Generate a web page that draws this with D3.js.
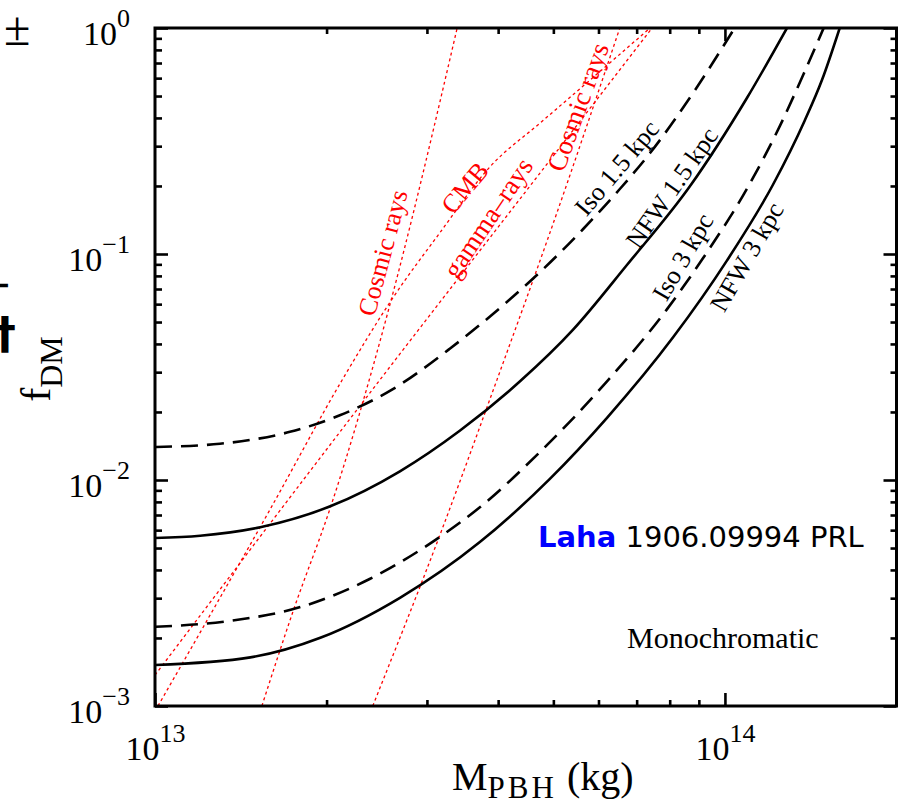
<!DOCTYPE html>
<html>
<head>
<meta charset="utf-8">
<script src="https://cdn.jsdelivr.net/npm/d3@7"></script>
<style>
  body { margin: 0; background: #fff; }
  svg { display: block; }
  .serif { font-family: "Liberation Serif", "Times New Roman", serif; }
  .comic { font-family: "Comic Sans MS", "DejaVu Sans", sans-serif; }
  .sans { font-family: "DejaVu Sans", sans-serif; }
</style>
</head>
<body>
<svg id="chart" width="898" height="805"></svg>
<script>
// ---- axis ranges and ticks ----
const massDomain = [1e13, 2e14];
const fDomain = [1e-3, 1];
const xMajorTicks = [1e13, 1e14];
const xMinorTicks = [2e13, 3e13, 4e13, 5e13, 6e13, 7e13, 8e13, 9e13];
const yMajorTicks = [1e-3, 1e-2, 1e-1, 1];
const yMinorTicks = [2e-3, 3e-3, 4e-3, 5e-3, 6e-3, 7e-3, 8e-3, 9e-3,
                     2e-2, 3e-2, 4e-2, 5e-2, 6e-2, 7e-2, 8e-2, 9e-2,
                     2e-1, 3e-1, 4e-1, 5e-1, 6e-1, 7e-1, 8e-1, 9e-1];

// ---- 511 keV limits (PBH mass in kg, fraction of dark matter) ----
const massIso15 = [1.0e13, 1.30e13, 1.725e13, 2.11e13, 2.61e13, 3.29e13, 4.08e13, 4.74e13, 5.64e13, 6.54e13, 7.39e13, 8.93e13, 1.04e14];
const fIso15    = [0.0140, 0.01447, 0.01633, 0.01933, 0.02518, 0.03809, 0.05929, 0.08326, 0.1290, 0.1939, 0.2798, 0.5470, 1.0];

const massNFW15 = [1.0e13, 1.2e13, 1.53e13, 2.03e13, 2.69e13, 3.43e13, 4.37e13, 5.41e13, 6.73e13, 8.68e13, 1.093e14, 1.285e14];
const fNFW15    = [0.00554, 0.00567, 0.00618, 0.00765, 0.01093, 0.01656, 0.02733, 0.04615, 0.0894, 0.1993, 0.490, 1.0];

const massIso3 = [1.0e13, 1.354e13, 1.80e13, 2.38e13, 3.16e13, 3.72e13, 4.74e13, 6.21e13, 7.91e13, 9.15e13, 1.093e14, 1.25e14, 1.38e14, 1.49e14];
const fIso3    = [0.00224, 0.00238, 0.00274, 0.003646, 0.005595, 0.007595, 0.01333, 0.02731, 0.05687, 0.09572, 0.1943, 0.3707, 0.6412, 1.0];

const massNFW3 = [1.0e13, 1.47e13, 1.95e13, 2.69e13, 3.72e13, 4.93e13, 6.21e13, 8.11e13, 1.008e14, 1.214e14, 1.38e14, 1.48e14, 1.59e14];
const fNFW3    = [0.001518, 0.001641, 0.002003, 0.003011, 0.005326, 0.01012, 0.01885, 0.04279, 0.0935, 0.2025, 0.3889, 0.5886, 1.0];

// ---- existing bounds ----
const massCR1 = [1.54e13, 1.75e13, 2.03e13, 2.56e13, 3.39e13];
const fCR1    = [0.001, 0.00266, 0.00752, 0.0548, 1.0];
const massCR2 = [2.41e13, 3.20e13, 3.98e13, 4.93e13, 6.54e13];
const fCR2    = [0.001, 0.00619, 0.0277, 0.124, 1.0];
const massCMB = [1.012e13, 1.59e13, 2.13e13, 2.62e13, 3.16e13, 3.87e13, 4.74e13, 5.28e13, 7.39e13];
const fCMB    = [0.001, 0.00737, 0.0277, 0.0645, 0.124, 0.243, 0.380, 0.480, 1.0];
const massGamma = [1.0e13, 2.48e13, 4.83e13, 7.45e13];
const fGamma    = [0.00137, 0.0277, 0.243, 1.0];

// ---- layout ----
const plotL = 155, plotR = 896.5, plotT = 28, plotB = 706;
const svg = d3.select("#chart");
const x = d3.scaleLog().domain(massDomain).range([plotL, plotR]);
const y = d3.scaleLog().domain(fDomain).range([plotB, plotT]);

svg.append("defs").append("clipPath").attr("id", "plotClip")
  .append("rect").attr("x", plotL).attr("y", plotT)
  .attr("width", plotR - plotL).attr("height", plotB - plotT);

const zip = (a, b) => a.map((v, i) => [v, b[i]]);
const line = d3.line().x(d => x(d[0])).y(d => y(d[1])).curve(d3.curveMonotoneX);

const plot = svg.append("g").attr("clip-path", "url(#plotClip)");

// red dotted bounds
const redCurves = [[massCR1, fCR1], [massCR2, fCR2], [massCMB, fCMB], [massGamma, fGamma]];
redCurves.forEach(([m, f]) => {
  plot.append("path").attr("d", line(zip(m, f)))
    .attr("fill", "none").attr("stroke", "#ff0000")
    .attr("stroke-width", 1.3).attr("stroke-dasharray", "3 3");
});

// black limits
const blackCurves = [
  [massIso15, fIso15, true], [massNFW15, fNFW15, false],
  [massIso3, fIso3, true], [massNFW3, fNFW3, false]
];
blackCurves.forEach(([m, f, dashed]) => {
  plot.append("path").attr("d", line(zip(m, f)))
    .attr("fill", "none").attr("stroke", "#000")
    .attr("stroke-width", 2.6)
    .attr("stroke-dasharray", dashed ? "17 9" : null);
});

// ---- axes ----
function ticks(axis, tx, ty) {
  const g = svg.append("g").attr("transform", `translate(${tx},${ty})`).call(axis);
  g.select(".domain").remove();
  g.selectAll(".tick line").attr("stroke", "#000").attr("stroke-width", 2.6);
  return g;
}
const noLabel = () => "";
const expText = d => {
  const e = Math.round(Math.log10(d));
  return e < 0 ? "\u2212" + (-e) : String(e);
};
function powerLabel(sel) {
  sel.text(null).attr("class", "serif").attr("fill", "#000")
    .attr("font-size", 34)
    .each(function(d) {
      const t = d3.select(this);
      t.append("tspan").text("10");
      t.append("tspan").attr("dy", -18).attr("font-size", 26).text(expText(d));
    });
}

// bottom
ticks(d3.axisBottom(x).tickValues(xMinorTicks).tickSizeInner(-6).tickSizeOuter(0).tickFormat(noLabel), 0, plotB);
const gx = ticks(d3.axisBottom(x).tickValues(xMajorTicks).tickSizeInner(-13).tickSizeOuter(0), 0, plotB);
gx.selectAll(".tick text").call(powerLabel)
  .attr("y", 54).attr("dy", null).attr("text-anchor", "middle");
// top
ticks(d3.axisTop(x).tickValues(xMinorTicks).tickSizeInner(-6).tickSizeOuter(0).tickFormat(noLabel), 0, plotT);
ticks(d3.axisTop(x).tickValues([1e14]).tickSizeInner(-13).tickSizeOuter(0).tickFormat(noLabel), 0, plotT);

// left
ticks(d3.axisLeft(y).tickValues(yMinorTicks).tickSizeInner(-7).tickSizeOuter(0).tickFormat(noLabel), plotL, 0);
const gy = ticks(d3.axisLeft(y).tickValues(yMajorTicks).tickSizeInner(-13).tickSizeOuter(0).tickPadding(25), plotL, 0);
gy.selectAll(".tick text").call(powerLabel)
  .attr("dy", 16).attr("text-anchor", "end");
// right
ticks(d3.axisRight(y).tickValues(yMinorTicks).tickSizeInner(-6).tickSizeOuter(0).tickFormat(noLabel), plotR, 0);
ticks(d3.axisRight(y).tickValues(yMajorTicks).tickSizeInner(-13).tickSizeOuter(0).tickFormat(noLabel), plotR, 0);

// frame
svg.append("rect").attr("x", plotL).attr("y", plotT)
  .attr("width", plotR - plotL).attr("height", plotB - plotT)
  .attr("fill", "none").attr("stroke", "#000").attr("stroke-width", 3);

// ---- axis titles ----
const xt = svg.append("text").attr("class", "serif").attr("x", 452).attr("y", 790)
  .attr("font-size", 40).attr("fill", "#000");
xt.append("tspan").text("M");
xt.append("tspan").attr("dy", 8).attr("font-size", 31).attr("letter-spacing", 3).text("PBH");
xt.append("tspan").attr("dy", -8).text(" (kg)");

const yt = svg.append("text").attr("class", "serif").attr("transform", "translate(50,369) rotate(-90)")
  .attr("text-anchor", "middle").attr("font-size", 42).attr("fill", "#000");
yt.append("tspan").text("f");
yt.append("tspan").attr("dy", 12).attr("font-size", 32).text("DM");

// ---- curve labels ----
const curveLabels = [
  { text: "Cosmic rays", cx: 383, cy: 253, angle: -75, size: 26, color: "#ff0000" },
  { text: "CMB",         cx: 465, cy: 188, angle: -50, size: 26, color: "#ff0000" },
  { text: "gamma\u2013rays", cx: 488, cy: 218, angle: -56, size: 27, color: "#ff0000" },
  { text: "Cosmic rays", cx: 578, cy: 107, angle: -70, size: 27, color: "#ff0000" },
  { text: "Iso 1.5 kpc", cx: 617, cy: 168, angle: -50, size: 26, color: "#000" },
  { text: "NFW 1.5 kpc", cx: 672, cy: 188, angle: -55, size: 26, color: "#000" },
  { text: "Iso 3 kpc",   cx: 683, cy: 257, angle: -60, size: 26, color: "#000" },
  { text: "NFW 3 kpc",   cx: 747, cy: 257, angle: -60, size: 26, color: "#000" }
];
curveLabels.forEach(l => {
  svg.append("text").attr("class", "serif")
    .attr("transform", `translate(${l.cx},${l.cy}) rotate(${l.angle})`)
    .attr("text-anchor", "middle").attr("dominant-baseline", "central")
    .attr("font-size", l.size).attr("fill", l.color).text(l.text);
});

// ---- annotations ----
const ref = svg.append("text").attr("class", "comic").attr("x", 538).attr("y", 547)
  .attr("font-size", 29);
ref.append("tspan").attr("fill", "#0000ff").attr("font-weight", "bold").text("Laha");
ref.append("tspan").attr("fill", "#000").text(" 1906.09994 PRL");

svg.append("text").attr("class", "serif").attr("x", 627).attr("y", 648)
  .attr("font-size", 30).attr("fill", "#000").text("Monochromatic");

// edge fragments
svg.append("text").attr("class", "serif").attr("x", 4).attr("y", 45)
  .attr("font-size", 48).attr("fill", "#000").text("\u00b1");
svg.append("text").attr("class", "sans").attr("x", -14).attr("y", 295)
  .attr("font-weight", "bold").attr("font-size", 30).attr("fill", "#000").text("\u2212");
svg.append("text").attr("class", "sans").attr("x", 5).attr("y", 349)
  .attr("text-anchor", "middle")
  .attr("font-weight", "bold").attr("font-size", 44).attr("fill", "#000").text("\u2020");
</script>
</body>
</html>
